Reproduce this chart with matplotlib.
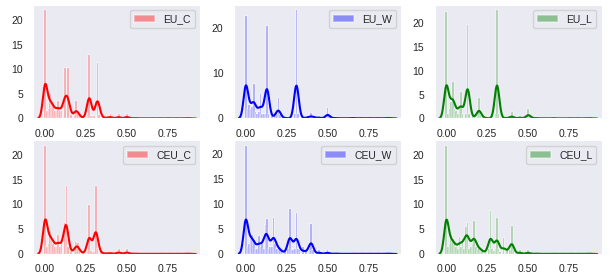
import numpy as np
import matplotlib
matplotlib.use("Agg")
import matplotlib.pyplot as plt
import seaborn as sns

# Valores: posição de cada barra e altura (densidade)
eu_c_x = [0.00, 0.01, 0.02, 0.03, 0.04, 0.05, 0.06, 0.07, 0.08, 0.09, 0.10,
          0.12, 0.14, 0.16, 0.18, 0.19, 0.20, 0.21, 0.23,
          0.26, 0.27, 0.28, 0.29, 0.30, 0.32, 0.33, 0.35, 0.37,
          0.40, 0.45, 0.50,
          0.55, 0.60, 0.65, 0.70, 0.75, 0.80, 0.85, 0.88]
eu_c_h = [22.0, 1.5, 2.0, 5.0, 3.5, 2.5, 1.5, 1.5, 3.5, 1.5, 1.5,
          10.3, 10.3, 0.8, 0.8, 3.5, 1.0, 0.5, 0.3,
          1.0, 13.0, 0.6, 0.4, 0.5, 11.3, 0.8, 0.4, 0.3,
          0.9, 0.9, 1.0,
          0.3, 0.2, 0.2, 0.2, 0.2, 0.2, 0.2, 0.2]

eu_w_x = [0.00, 0.01, 0.02, 0.03, 0.04, 0.05, 0.06, 0.07, 0.08, 0.09, 0.10,
          0.11, 0.12, 0.13, 0.14,
          0.16, 0.18, 0.19, 0.20, 0.21, 0.24,
          0.30, 0.31, 0.32, 0.35, 0.38,
          0.40, 0.42, 0.45, 0.50, 0.51,
          0.55, 0.60, 0.65, 0.70, 0.75, 0.80, 0.85, 0.88]
eu_w_h = [22.5, 2.0, 3.0, 2.0, 2.5, 7.7, 1.5, 1.0, 1.5, 5.5, 1.0,
          1.0, 1.0, 20.5, 1.0,
          0.5, 0.5, 1.0, 4.5, 0.8, 0.3,
          1.0, 23.85, 1.0, 0.3, 0.5,
          1.2, 0.5, 0.5, 2.3, 0.5,
          0.3, 0.2, 0.3, 0.2, 0.2, 0.2, 0.2, 0.2]

eu_l_x = [0.00, 0.01, 0.02, 0.03, 0.04, 0.05, 0.06, 0.07, 0.08, 0.09, 0.10,
          0.12, 0.13, 0.14, 0.16,
          0.19, 0.20, 0.21, 0.24,
          0.30, 0.31, 0.32, 0.36,
          0.40, 0.45, 0.50, 0.51,
          0.55, 0.60, 0.65, 0.70, 0.75, 0.80, 0.85, 0.88]
eu_l_h = [22.3, 1.0, 2.0, 3.5, 7.7, 2.0, 1.5, 1.0, 2.0, 5.5, 1.0,
          1.0, 19.7, 1.0, 0.5,
          1.0, 4.2, 0.8, 0.3,
          1.0, 22.7, 1.0, 0.3,
          1.3, 0.5, 2.0, 0.5,
          0.3, 0.2, 0.3, 0.2, 0.2, 0.2, 0.2, 0.2]

ceu_c_x = [0.00, 0.01, 0.02, 0.03, 0.04, 0.05, 0.06, 0.07, 0.08, 0.09, 0.10,
           0.12, 0.13, 0.14, 0.16, 0.18, 0.19, 0.20, 0.21, 0.23,
           0.26, 0.27, 0.28, 0.29, 0.30, 0.31, 0.32,
           0.34, 0.37, 0.40, 0.45, 0.50,
           0.55, 0.60, 0.65, 0.70, 0.75, 0.80, 0.85, 0.88]
ceu_c_h = [21.8, 1.5, 2.0, 4.7, 3.8, 2.0, 1.5, 1.5, 3.8, 1.5, 2.3,
           6.3, 13.8, 1.5, 0.6, 0.8, 2.5, 2.3, 0.6, 0.4,
           0.8, 9.8, 0.6, 0.4, 0.5, 13.8, 1.0,
           0.6, 0.3, 0.5, 1.0, 1.0,
           0.3, 0.2, 0.2, 0.2, 0.2, 0.2, 0.2, 0.2]

ceu_w_x = [0.00, 0.01, 0.02, 0.03, 0.04, 0.05, 0.06, 0.07, 0.08, 0.09, 0.10,
           0.11, 0.12, 0.13, 0.14, 0.15, 0.16, 0.17, 0.18, 0.19, 0.20, 0.21, 0.22,
           0.24, 0.26, 0.27, 0.28, 0.29, 0.30, 0.31, 0.32, 0.33,
           0.35, 0.37, 0.39, 0.40, 0.41, 0.45, 0.50,
           0.55, 0.60, 0.65, 0.70, 0.75, 0.80, 0.85, 0.88]
ceu_w_h = [21.7, 1.5, 2.0, 4.0, 3.8, 2.8, 1.0, 1.0, 3.7, 1.5, 2.0,
           1.0, 5.8, 7.1, 1.0, 1.5, 1.5, 7.3, 2.0, 1.0, 1.5, 1.0, 0.6,
           0.6, 1.0, 9.0, 1.0, 0.8, 1.0, 8.2, 1.0, 0.8,
           1.5, 0.8, 1.0, 6.0, 0.8, 0.8, 0.8,
           0.3, 0.2, 0.2, 0.2, 0.2, 0.2, 0.2, 0.2]

ceu_l_x = [0.00, 0.01, 0.02, 0.03, 0.04, 0.05, 0.06, 0.07, 0.08, 0.09, 0.10,
           0.11, 0.12, 0.13, 0.14, 0.15, 0.16, 0.17, 0.18, 0.19, 0.20, 0.21, 0.22,
           0.24, 0.26, 0.27, 0.28, 0.29, 0.30, 0.31, 0.32, 0.33,
           0.35, 0.37, 0.39, 0.40, 0.41, 0.45, 0.50,
           0.55, 0.60, 0.65, 0.70, 0.75, 0.80, 0.85, 0.88]
ceu_l_h = [21.8, 1.5, 2.0, 3.8, 3.0, 2.0, 1.5, 1.0, 3.5, 1.5, 3.0,
           1.0, 5.5, 6.2, 1.0, 1.5, 2.0, 6.7, 1.5, 1.0, 1.5, 1.0, 0.8,
           0.6, 1.0, 8.6, 1.0, 0.6, 1.0, 7.3, 1.0, 0.5,
           3.2, 1.0, 0.8, 5.6, 0.8, 0.8, 0.8,
           0.3, 0.2, 0.2, 0.2, 0.2, 0.2, 0.2, 0.2]

labels = ["EU_C", "EU_W", "EU_L", "CEU_C", "CEU_W", "CEU_L"]
cores = ["r", "b", "g", "r", "b", "g"]
dados = [(eu_c_x, eu_c_h), (eu_w_x, eu_w_h), (eu_l_x, eu_l_h),
         (ceu_c_x, ceu_c_h), (ceu_w_x, ceu_w_h), (ceu_l_x, ceu_l_h)]

BIN_W = 0.01
BW = 0.014  # largura de banda do KDE

sns.set_style("dark")
plt.rcParams["font.family"] = ["Liberation Sans", "DejaVu Sans"]

fig, axes = plt.subplots(2, 3, figsize=(6.1, 2.74), dpi=100)
fig.subplots_adjust(left=0.0546, right=0.9864, top=0.982, bottom=0.073,
                    wspace=0.2, hspace=0.194)

edges = np.arange(-BIN_W / 2, 0.885 + BIN_W / 2, BIN_W)

for ax, (xs, hs), lab, cor in zip(axes.ravel(), dados, labels, cores):
    xs = np.asarray(xs)
    hs = np.asarray(hs)
    ax.hist(xs, bins=edges, weights=hs, color=cor, alpha=0.4,
            edgecolor="w", linewidth=1.2, label=lab)
    # KDE suavizando a massa das barras
    grid = np.linspace(xs.min() - 3 * BW, xs.max() + 3 * BW, 600)
    massa = hs * BIN_W
    kern = np.exp(-0.5 * ((grid[:, None] - xs[None, :]) / BW) ** 2)
    dens = (kern * massa).sum(axis=1) / (BW * np.sqrt(2 * np.pi))
    ax.plot(grid, dens, color=cor, lw=1.5)
    ax.set_xlim(-0.072, 0.95)
    ax.set_xticks([0.0, 0.25, 0.5, 0.75])
    ax.tick_params(labelsize=7.5, pad=4)
    ax.legend(loc="upper right", fontsize=7.5)

fig.savefig("out.png", dpi=100)
plt.close(fig)
